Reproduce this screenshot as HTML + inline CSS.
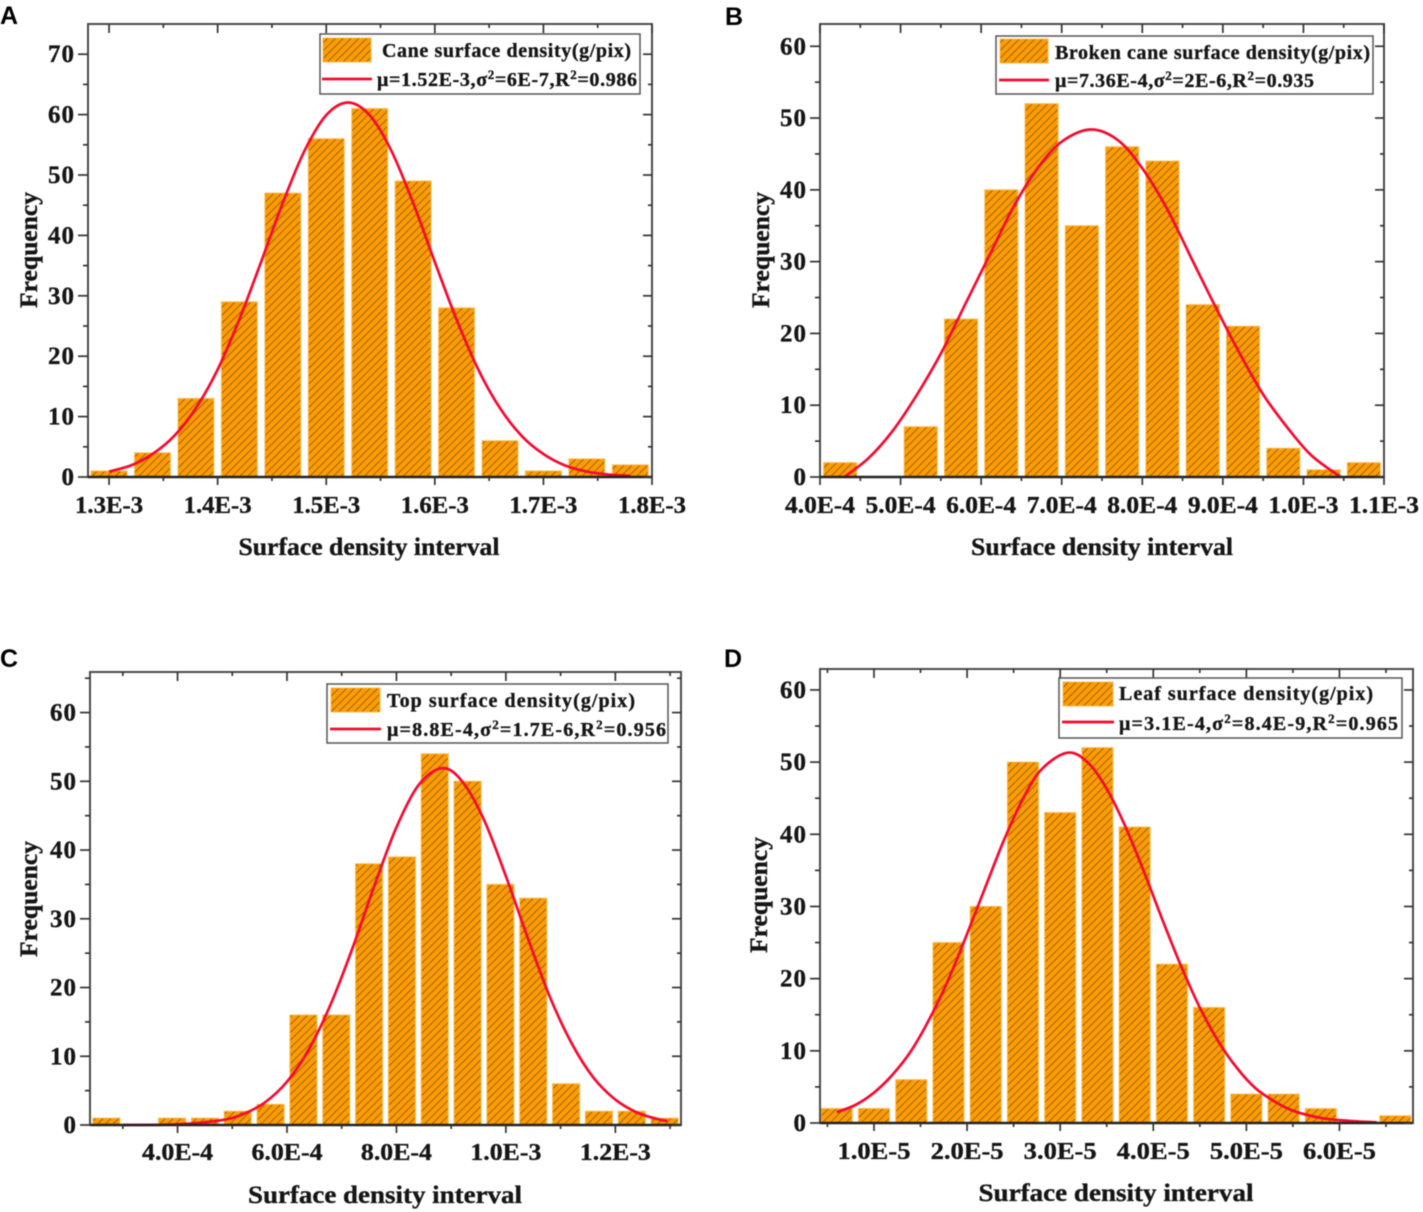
<!DOCTYPE html>
<html lang="en">
<head>
<meta charset="utf-8">
<title>Surface density histograms</title>
<style>
html,body{margin:0;padding:0;background:#fff;}
#figure{display:block;width:1423px;height:1212px;filter:blur(0.4px);}
text{font-family:"Liberation Serif",serif;font-weight:bold;fill:#151515;stroke:#151515;stroke-width:0.35px;}
.panel-letter{font-family:"Liberation Sans",sans-serif;fill:#000;stroke:none;font-size:25px;}
</style>
</head>
<body>
<svg id="figure" xmlns="http://www.w3.org/2000/svg" width="1423" height="1212" viewBox="0 0 1423 1212">
<defs>
<pattern id="hatch" patternUnits="userSpaceOnUse" width="5.5" height="5.5" patternTransform="rotate(45)">
<rect width="5.5" height="5.5" fill="#fc9c04"/>
<line x1="0" y1="0" x2="0" y2="5.5" stroke="#6e4606" stroke-width="1.3"/>
</pattern>
</defs>
<text class="panel-letter" x="0" y="24">A</text>
<text class="panel-letter" x="725" y="25">B</text>
<text class="panel-letter" x="0" y="667">C</text>
<text class="panel-letter" x="724" y="667">D</text>
</svg>
<script>
// Panel A (x in units of 1E-4)
const aBinCenters = [13,13.4,13.8,14.2,14.6,15,15.4,15.8,16.2,16.6,17,17.4,17.8];
const aCounts = [1,4,13,29,47,56,61,49,28,6,1,3,2];
const aFitX = [13,13.2,13.4,13.6,13.8,14,14.2,14.4,14.6,14.8,15,15.2,15.4,15.6,15.8,16,16.2,16.4,16.6,16.8,17,17.2,17.4,17.6,17.8];
const aFitY = [0.9,1.9,3.8,6.8,11.4,17.8,26.1,35.6,45.4,54,59.9,62,59.9,54,45.4,35.6,26.1,17.8,11.4,6.8,3.8,1.9,0.9,0.4,0.2];
const aXTickValues = [13,14,15,16,17,18];
const aXTickLabels = ["1.3E-3","1.4E-3","1.5E-3","1.6E-3","1.7E-3","1.8E-3"];
const aXMinorTicks = [13.5,14.5,15.5,16.5,17.5];
const aYTicks = [0,10,20,30,40,50,60,70];
const aYMinorTicks = [5,15,25,35,45,55,65];

// Panel B (x in units of 1E-4)
const bBinCenters = [4.25,4.75,5.25,5.75,6.25,6.75,7.25,7.75,8.25,8.75,9.25,9.75,10.25,10.75];
const bCounts = [2,0,7,22,40,52,35,46,44,24,21,4,1,2];
const bFitX = [4.3,4.6,4.9,5.2,5.5,5.8,6.1,6.4,6.7,7,7.36,7.7,8,8.3,8.6,8.9,9.2,9.5,9.8,10.1,10.46];
const bFitY = [0,2.6,6.4,11.4,17.2,24,30.8,37.6,43,46.7,48.4,46.9,43,37.5,30.7,23.9,17.4,11.5,6.9,3,0];
const bXTickValues = [4,5,6,7,8,9,10,11];
const bXTickLabels = ["4.0E-4","5.0E-4","6.0E-4","7.0E-4","8.0E-4","9.0E-4","1.0E-3","1.1E-3"];
const bXMinorTicks = [4.5,5.5,6.5,7.5,8.5,9.5,10.5];
const bYTicks = [0,10,20,30,40,50,60];
const bYMinorTicks = [5,15,25,35,45,55];

// Panel C (x in units of 1E-4)
const cBinCenters = [2.7,3.3,3.9,4.5,5.1,5.7,6.3,6.9,7.5,8.1,8.7,9.3,9.9,10.5,11.1,11.7,12.3,12.9];
const cCounts = [1,0,1,1,2,3,16,16,38,39,54,50,35,33,6,2,2,1];
const cFitX = [3,4,4.8,5.2,5.6,6,6.4,6.8,7.2,7.6,8,8.4,8.83,9.2,9.6,10,10.4,10.8,11.2,11.6,12,12.4,12.8,12.95];
const cFitY = [0,0.1,0.7,1.6,3.3,6.3,11,17.6,25.8,34.9,43.3,49.4,51.9,50,44.4,36.2,27.2,18.7,11.9,6.9,3.7,1.8,0.8,0.6];
const cXTickValues = [4,6,8,10,12];
const cXTickLabels = ["4.0E-4","6.0E-4","8.0E-4","1.0E-3","1.2E-3"];
const cXMinorTicks = [3,5,7,9,11,13];
const cYTicks = [0,10,20,30,40,50,60];
const cYMinorTicks = [5,15,25,35,45,55,65];

// Panel D (x in units of 1E-5)
const dBinCenters = [0.6,1,1.4,1.8,2.2,2.6,3,3.4,3.8,4.2,4.6,5,5.4,5.8,6.2,6.6];
const dCounts = [2,2,6,25,30,50,43,52,41,22,16,4,4,2,0,1];
const dFitX = [0.6,0.8,1,1.2,1.4,1.6,1.8,2,2.2,2.4,2.6,2.8,3.08,3.3,3.5,3.7,3.9,4.1,4.3,4.5,4.7,4.9,5.1,5.3,5.5,5.8,6.1,6.4];
const dFitY = [1.5,2.5,4.2,6.7,10,14.5,19.9,26.2,32.8,39.3,44.9,49,51.3,49.9,46.3,41.1,34.8,28.1,21.7,16,11.3,7.6,4.8,3,1.7,0.7,0.3,0.1];
const dXTickValues = [1,2,3,4,5,6];
const dXTickLabels = ["1.0E-5","2.0E-5","3.0E-5","4.0E-5","5.0E-5","6.0E-5"];
const dXMinorTicks = [0.5,1.5,2.5,3.5,4.5,5.5,6.5];
const dYTicks = [0,10,20,30,40,50,60];
const dYMinorTicks = [5,15,25,35,45,55];

const SVG_NS = "http://www.w3.org/2000/svg";
const root = document.getElementById("figure");

function make(tag, parent, attrs, content) {
  const el = document.createElementNS(SVG_NS, tag);
  for (const k in attrs) el.setAttribute(k, attrs[k]);
  if (content !== undefined) el.textContent = content;
  parent.appendChild(el);
  return el;
}

function smoothPath(pts) {
  let d = "M" + pts[0][0].toFixed(1) + " " + pts[0][1].toFixed(1);
  for (let i = 0; i < pts.length - 1; i++) {
    const p0 = pts[Math.max(0, i - 1)], p1 = pts[i], p2 = pts[i + 1], p3 = pts[Math.min(pts.length - 1, i + 2)];
    const c1x = p1[0] + (p2[0] - p0[0]) / 6, c1y = p1[1] + (p2[1] - p0[1]) / 6;
    const c2x = p2[0] - (p3[0] - p1[0]) / 6, c2y = p2[1] - (p3[1] - p1[1]) / 6;
    d += " C" + [c1x, c1y, c2x, c2y, p2[0], p2[1]].map(v => v.toFixed(1)).join(" ");
  }
  return d;
}

function drawPanel(p) {
  const g = make("g", root, {});
  
  
  const x = v => p.left + (v - p.xMin) / (p.xMax - p.xMin) * (p.right - p.left);
  const y = v => p.bottom - (v - 0) / p.yMax * (p.bottom - p.top);

  // bars
  p.bins.forEach((c, i) => {
    if (!p.counts[i]) return;
    const bar = make("rect", g, {
      x: x(c - p.binWidth / 2), y: y(p.counts[i]),
      width: x(c + p.binWidth / 2) - x(c - p.binWidth / 2),
      height: y(0) - y(p.counts[i]),
      fill: "url(#hatch)", stroke: "#fbb94a", "stroke-width": 1
    });
    
    
  });

  // fit curve
  const curve = make("path", g, {
    d: smoothPath(p.fitX.map((v, i) => [x(v), y(p.fitY[i])])),
    fill: "none", stroke: "#f40a30", "stroke-width": 2.7
  });
  
  

  // frame
  const frame = make("rect", g, {
    x: p.left, y: p.top, width: p.right - p.left, height: p.bottom - p.top,
    fill: "none", stroke: "#4a4a4a", "stroke-width": 2
  });
  
  
  const baseLine = make("line", g, { x1: p.left, x2: p.right, y1: p.bottom, y2: p.bottom, stroke: "#222", "stroke-width": 2.4 });
  
  

  // ticks
  const tick = (x1, y1, x2, y2, name) => {
    const t = make("line", g, { x1, y1, x2, y2, stroke: "#333", "stroke-width": 1.7 });
    
    
  };
  p.xTicks.forEach(v => {
    tick(x(v), p.bottom, x(v), p.bottom + 8, "x-tick-" + p.id);
    tick(x(v), p.top, x(v), p.top + 9, "x-tick-top-" + p.id);
  });
  p.xMinor.forEach(v => {
    tick(x(v), p.bottom, x(v), p.bottom + 4, "x-minor-tick-" + p.id);
    tick(x(v), p.top, x(v), p.top + 4, "x-minor-tick-top-" + p.id);
  });
  p.yTicks.forEach(v => {
    tick(p.left - 10, y(v), p.left, y(v), "y-tick-" + p.id);
    tick(p.right - 9, y(v), p.right, y(v), "y-tick-right-" + p.id);
  });
  p.yMinor.forEach(v => {
    tick(p.left - 5, y(v), p.left, y(v), "y-minor-tick-" + p.id);
    tick(p.right - 4, y(v), p.right, y(v), "y-minor-tick-right-" + p.id);
  });

  // tick labels
  p.xTicks.forEach((v, i) => {
    const t = make("text", g, {
      x: x(v), y: p.xLabelY, "text-anchor": "middle", "font-size": 24,
      textLength: p.xLabelWidth, lengthAdjust: "spacingAndGlyphs"
    }, p.xLabels[i]);
    
    
  });
  p.yTicks.forEach(v => {
    const t = make("text", g, {
      x: p.left - 13, y: y(v) + 8, "text-anchor": "end", "font-size": 25, "letter-spacing": 1
    }, String(v));
    
    
  });

  // axis titles
  const xTitle = make("text", g, {
    x: p.xTitleX, y: p.xTitleY, "text-anchor": "middle", "font-size": 25,
    textLength: p.xTitleWidth, lengthAdjust: "spacingAndGlyphs"
  }, "Surface density interval");
  
  
  const yTitle = make("text", g, {
    transform: "translate(" + p.yTitleX + " " + p.yTitleY + ") rotate(-90)",
    "text-anchor": "middle", "font-size": 25, textLength: 116, lengthAdjust: "spacingAndGlyphs"
  }, "Frequency");
  
  

  // legend
  const L = p.legend;
  const legend = make("g", g, {});
  
  
  const box = make("rect", legend, { x: L.x, y: L.y, width: L.w, height: L.h, fill: "#fff", stroke: "#555", "stroke-width": 1.5 });
  
  
  const swatch = make("rect", legend, { x: L.sx, y: L.sy, width: L.sw, height: 24, fill: "url(#hatch)", stroke: "#fbb94a", "stroke-width": 1 });
  
  
  const lineKey = make("line", legend, { x1: L.sx - 1, x2: L.sx + L.sw + 1, y1: L.ly, y2: L.ly, stroke: "#f40a30", "stroke-width": 2.7 });
  
  
  const t1 = make("text", legend, { x: L.t1x, y: L.t1y, "font-size": 20, textLength: L.t1w, lengthAdjust: "spacing" }, L.t1);
  
  
  const t2 = make("text", legend, { x: L.t2x, y: L.t2y, "font-size": 20, textLength: L.t2w, lengthAdjust: "spacing" });
  
  
  L.t2.forEach((s, i) => {
    const sup = i % 2 === 1;
    const attrs = sup ? { "font-size": 13, dy: -7 } : (i > 0 ? { dy: 7 } : {});
    make("tspan", t2, attrs, s);
  });
}

drawPanel({ id: "a", left: 88, right: 652, top: 24, bottom: 477, xMin: 12.806, xMax: 18, yMax: 75, binWidth: 0.33,
  bins: aBinCenters, counts: aCounts, fitX: aFitX, fitY: aFitY, xTicks: aXTickValues, xLabels: aXTickLabels, xMinor: aXMinorTicks, yTicks: aYTicks, yMinor: aYMinorTicks,
  xLabelY: 513, xLabelWidth: 68, xTitleX: 369, xTitleY: 555, xTitleWidth: 261, yTitleX: 37, yTitleY: 250,
  legend: { x: 320, y: 34, w: 320, h: 60, sx: 323, sy: 38, sw: 48, ly: 79, t1: "Cane surface density(g/pix)", t1x: 382, t1y: 57, t1w: 249, t2: ["μ=1.52E-3,σ","2","=6E-7,R","2","=0.986"], t2x: 377, t2y: 86, t2w: 260 } });

drawPanel({ id: "b", left: 820, right: 1384, top: 24, bottom: 477, xMin: 4, xMax: 11, yMax: 63.1, binWidth: 0.41,
  bins: bBinCenters, counts: bCounts, fitX: bFitX, fitY: bFitY, xTicks: bXTickValues, xLabels: bXTickLabels, xMinor: bXMinorTicks, yTicks: bYTicks, yMinor: bYMinorTicks,
  xLabelY: 513, xLabelWidth: 70, xTitleX: 1102, xTitleY: 555, xTitleWidth: 262, yTitleX: 769, yTitleY: 250,
  legend: { x: 996, y: 36, w: 377, h: 58, sx: 1000, sy: 39, sw: 48, ly: 80, t1: "Broken cane surface density(g/pix)", t1x: 1055, t1y: 59, t1w: 315, t2: ["μ=7.36E-4,σ","2","=2E-6,R","2","=0.935"], t2x: 1055, t2y: 87, t2w: 259 } });

drawPanel({ id: "c", left: 90, right: 681, top: 672, bottom: 1125, xMin: 2.4, xMax: 13.2, yMax: 65.9, binWidth: 0.494,
  bins: cBinCenters, counts: cCounts, fitX: cFitX, fitY: cFitY, xTicks: cXTickValues, xLabels: cXTickLabels, xMinor: cXMinorTicks, yTicks: cYTicks, yMinor: cYMinorTicks,
  xLabelY: 1160, xLabelWidth: 71, xTitleX: 385, xTitleY: 1203, xTitleWidth: 274, yTitleX: 37, yTitleY: 899,
  legend: { x: 327, y: 684, w: 341, h: 59, sx: 331, sy: 688, sw: 49, ly: 729, t1: "Top surface density(g/pix)", t1x: 387, t1y: 707, t1w: 248, t2: ["μ=8.8E-4,σ","2","=1.7E-6,R","2","=0.956"], t2x: 387, t2y: 736, t2w: 279 } });

drawPanel({ id: "d", left: 820, right: 1413, top: 669, bottom: 1123, xMin: 0.42, xMax: 6.79, yMax: 62.9, binWidth: 0.333,
  bins: dBinCenters, counts: dCounts, fitX: dFitX, fitY: dFitY, xTicks: dXTickValues, xLabels: dXTickLabels, xMinor: dXMinorTicks, yTicks: dYTicks, yMinor: dYMinorTicks,
  xLabelY: 1159, xLabelWidth: 73, xTitleX: 1116, xTitleY: 1201, xTitleWidth: 275, yTitleX: 767, yTitleY: 895,
  legend: { x: 1059, y: 678, w: 343, h: 60, sx: 1063, sy: 682, sw: 50, ly: 722, t1: "Leaf surface density(g/pix)", t1x: 1119, t1y: 700, t1w: 254, t2: ["μ=3.1E-4,σ","2","=8.4E-9,R","2","=0.965"], t2x: 1119, t2y: 730, t2w: 279 } });
</script>
</body>
</html>
